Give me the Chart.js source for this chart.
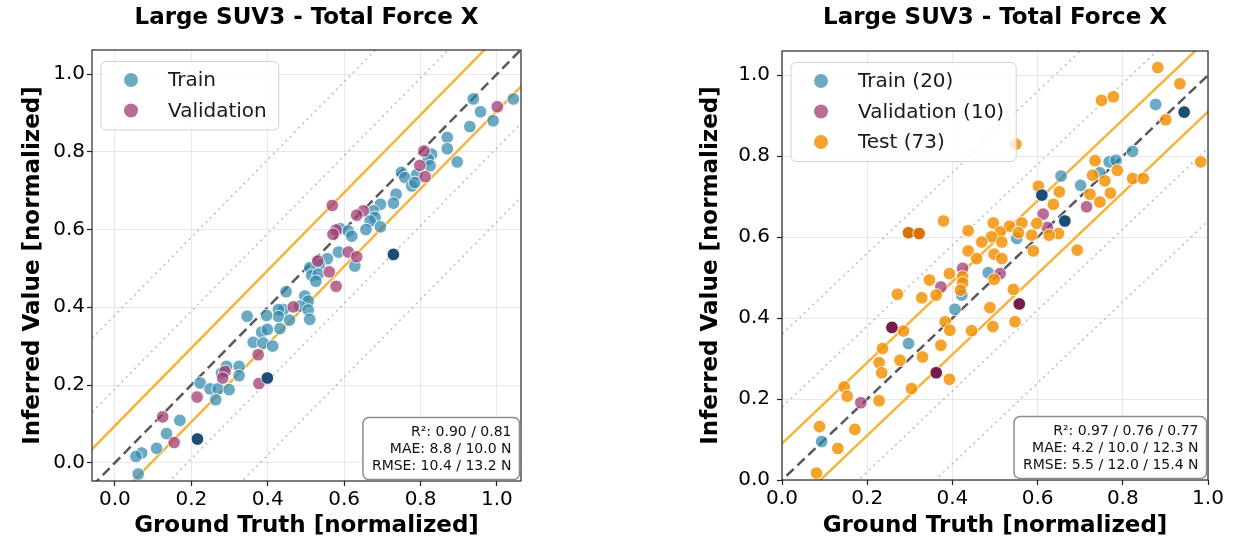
<!DOCTYPE html>
<html>
<head>
<meta charset="utf-8">
<script src="https://cdn.jsdelivr.net/npm/chart.js@4.4.0/dist/chart.umd.min.js"></script>
<style>
  html, body { margin: 0; padding: 0; background: #fff; }
  body { width: 1234px; height: 544px; position: relative; overflow: hidden; }
  .panel { position: absolute; top: 0; }
</style>
</head>
<body>
<div class="panel" style="left:0px"><canvas id="leftChart" width="560" height="544"></canvas></div>
<div class="panel" style="left:680px"><canvas id="rightChart" width="554" height="544"></canvas></div>
<script>
const titleText = "Large SUV3 - Total Force X";
const xLabel = "Ground Truth [normalized]";
const yLabel = "Inferred Value [normalized]";
const tickValues = [0, 0.2, 0.4, 0.6, 0.8, 1.0];

// ----- left panel (train / validation) -----
const leftTrain = [
  [0.938, 0.936], [1.043, 0.936], [0.957, 0.903], [0.990, 0.880], [0.929, 0.865],
  [0.870, 0.837], [0.870, 0.808], [0.896, 0.774], [0.829, 0.794], [0.820, 0.781],
  [0.825, 0.764], [0.790, 0.742], [0.750, 0.747], [0.759, 0.734], [0.777, 0.712],
  [0.785, 0.721], [0.736, 0.691], [0.729, 0.668], [0.695, 0.665], [0.676, 0.648],
  [0.681, 0.631], [0.668, 0.622], [0.695, 0.607], [0.657, 0.600], [0.590, 0.602],
  [0.611, 0.596], [0.620, 0.583], [0.585, 0.542], [0.628, 0.506], [0.556, 0.525],
  [0.535, 0.510], [0.510, 0.502], [0.515, 0.482], [0.532, 0.485], [0.526, 0.467],
  [0.448, 0.440], [0.497, 0.429], [0.506, 0.416], [0.484, 0.403], [0.506, 0.393],
  [0.510, 0.369], [0.441, 0.394], [0.428, 0.394], [0.428, 0.376], [0.432, 0.345],
  [0.457, 0.367], [0.346, 0.377], [0.397, 0.379], [0.384, 0.336], [0.399, 0.343],
  [0.362, 0.310], [0.388, 0.308], [0.413, 0.300], [0.292, 0.248], [0.325, 0.248],
  [0.279, 0.231], [0.325, 0.224], [0.223, 0.205], [0.249, 0.190], [0.270, 0.190],
  [0.299, 0.188], [0.264, 0.162], [0.170, 0.109], [0.135, 0.075], [0.109, 0.037],
  [0.070, 0.025], [0.055, 0.016], [0.061, -0.029]
];
const leftVal = [
  [1.001, 0.916], [0.809, 0.802], [0.798, 0.765], [0.812, 0.736], [0.569, 0.662],
  [0.650, 0.648], [0.633, 0.637], [0.579, 0.599], [0.571, 0.588], [0.611, 0.542],
  [0.633, 0.530], [0.531, 0.519], [0.561, 0.491], [0.579, 0.454], [0.467, 0.401],
  [0.375, 0.278], [0.288, 0.235], [0.282, 0.218], [0.377, 0.204], [0.215, 0.169],
  [0.125, 0.118], [0.155, 0.052]
];
const leftTrainDark = [[0.729, 0.536], [0.399, 0.218], [0.216, 0.061]];
const leftStats = ["R²: 0.90 / 0.81", "MAE: 8.8 / 10.0 N", "RMSE: 10.4 / 13.2 N"];

// ----- right panel (train / validation / test) -----
const rightTrain = [
  [0.877, 0.928], [0.823, 0.812], [0.768, 0.786], [0.784, 0.790], [0.746, 0.759],
  [0.655, 0.751], [0.701, 0.728], [0.551, 0.597], [0.484, 0.512], [0.422, 0.457],
  [0.406, 0.422], [0.297, 0.337], [0.093, 0.095]
];
const rightTrainDark = [[0.944, 0.909], [0.610, 0.704], [0.664, 0.640]];
const rightVal = [
  [0.715, 0.675], [0.613, 0.657], [0.623, 0.624], [0.424, 0.523], [0.512, 0.510],
  [0.373, 0.477], [0.185, 0.191]
];
const rightValDark = [[0.557, 0.435], [0.258, 0.377], [0.362, 0.265]];
const rightTest = [
  [0.882, 1.019], [0.934, 0.979], [0.750, 0.938], [0.778, 0.947], [0.901, 0.890],
  [0.549, 0.830], [0.983, 0.786], [0.735, 0.789], [0.787, 0.765], [0.729, 0.753],
  [0.823, 0.745], [0.848, 0.745], [0.758, 0.739], [0.602, 0.726], [0.771, 0.709],
  [0.723, 0.706], [0.651, 0.712], [0.746, 0.687], [0.637, 0.681], [0.379, 0.640],
  [0.496, 0.635], [0.563, 0.635], [0.598, 0.634], [0.534, 0.627], [0.437, 0.616],
  [0.649, 0.609], [0.627, 0.605], [0.586, 0.605], [0.555, 0.611], [0.512, 0.613],
  [0.492, 0.601], [0.469, 0.588], [0.516, 0.588], [0.437, 0.566], [0.457, 0.547],
  [0.498, 0.558], [0.516, 0.547], [0.590, 0.566], [0.693, 0.568], [0.424, 0.502],
  [0.424, 0.487], [0.393, 0.510], [0.498, 0.496], [0.346, 0.494], [0.419, 0.469],
  [0.362, 0.457], [0.328, 0.450], [0.271, 0.459], [0.543, 0.471], [0.488, 0.426],
  [0.383, 0.391], [0.394, 0.370], [0.445, 0.369], [0.495, 0.379], [0.547, 0.391],
  [0.285, 0.368], [0.236, 0.325], [0.373, 0.333], [0.277, 0.296], [0.330, 0.304],
  [0.228, 0.290], [0.234, 0.265], [0.393, 0.249], [0.146, 0.230], [0.153, 0.207],
  [0.228, 0.196], [0.304, 0.226], [0.088, 0.132], [0.171, 0.125], [0.131, 0.078],
  [0.081, 0.017]
];
const rightTestDark = [[0.297, 0.611], [0.322, 0.609]];
const rightStats = ["R²: 0.97 / 0.76 / 0.77", "MAE: 4.2 / 10.0 / 12.3 N", "RMSE: 5.5 / 12.0 / 15.4 N"];

// reference lines: y = x, y = x ± band, y = x ± dotted
const leftBand = 0.095, leftDotted = [0.19, 0.38];
const rightBand = 0.09, rightDotted = [0.18, 0.36];

const FONT = "'DejaVu Sans', sans-serif";
const C = {
  train: "rgba(46,134,171,0.7)",
  val: "rgba(162,59,114,0.75)",
  test: "rgba(241,143,1,0.82)",
  trainDark: "#1b4d75",
  valDark: "#761c4b",
  testDark: "#d8700a"
};

Chart.defaults.font.family = FONT;
Chart.defaults.color = "#000";

// legend box + stats box + axes frame, drawn on top of everything
const panelDecor = {
  id: "panelDecor",
  afterDraw(chart, args, opts) {
    const { ctx, chartArea: a } = chart;
    ctx.save();
    ctx.strokeStyle = "#262626";
    ctx.lineWidth = 1.2;
    ctx.strokeRect(a.left, a.top, a.right - a.left, a.bottom - a.top);

    // legend
    ctx.font = "20px " + FONT;
    const rowH = 30.5;
    const textW = Math.max(...opts.legend.map(e => ctx.measureText(e.label).width));
    const lx = a.left + 9, ly = a.top + 11.5;
    const lw = 67 + textW + 12, lh = opts.legend.length * rowH + 7.5;
    ctx.beginPath();
    ctx.roundRect(lx, ly, lw, lh, 5);
    ctx.fillStyle = "rgba(255,255,255,0.8)";
    ctx.fill();
    ctx.strokeStyle = "#d0d0d0";
    ctx.lineWidth = 1;
    ctx.stroke();
    opts.legend.forEach((e, i) => {
      const cy = ly + 18.5 + i * rowH;
      ctx.beginPath();
      ctx.arc(lx + 30, cy, 7, 0, Math.PI * 2);
      ctx.fillStyle = e.color;
      ctx.fill();
      ctx.fillStyle = "#1a1a1a";
      ctx.textAlign = "left";
      ctx.textBaseline = "middle";
      ctx.fillText(e.label, lx + 67, cy + 1);
    });

    // stats box
    ctx.font = "14px " + FONT;
    const lineH = 17;
    const sW = Math.max(...opts.stats.map(t => ctx.measureText(t).width)) + 17;
    const sH = opts.stats.length * lineH + 11;
    const sx = a.right - 1.5 - sW, sy = a.bottom - 1.5 - sH;
    ctx.beginPath();
    ctx.roundRect(sx, sy, sW, sH, 6);
    ctx.fillStyle = "rgba(255,255,255,0.9)";
    ctx.fill();
    ctx.strokeStyle = "#8c8c8c";
    ctx.lineWidth = 1.5;
    ctx.stroke();
    ctx.fillStyle = "#111";
    ctx.textAlign = "right";
    ctx.textBaseline = "middle";
    opts.stats.forEach((t, i) => {
      ctx.fillText(t, sx + sW - 8, sy + 6 + lineH / 2 + i * lineH);
    });
    ctx.restore();
  }
};

function pts(arr) {
  return arr.map(([x, y]) => ({ x, y }));
}

function scatterSet(arr, color, order) {
  return {
    data: pts(arr),
    pointRadius: 6.3,
    pointBackgroundColor: color,
    pointBorderColor: "rgba(255,255,255,0.85)",
    pointBorderWidth: 1,
    showLine: false,
    order: order
  };
}

function refLine(offset, color, width, dash, order) {
  return {
    data: [{ x: -0.5, y: -0.5 + offset }, { x: 1.5, y: 1.5 + offset }],
    showLine: true,
    pointRadius: 0,
    borderColor: color,
    borderWidth: width,
    borderDash: dash,
    clip: 0,
    order: order
  };
}

function refLines(band, dotted) {
  const out = [refLine(0, "rgba(60,60,60,0.85)", 2.5, [10, 5], 10)];
  out.push(refLine(band, "#f6b43c", 2.5, [], 11), refLine(-band, "#f6b43c", 2.5, [], 11));
  dotted.forEach(d => {
    out.push(refLine(d, "rgba(160,160,160,0.7)", 1.5, [2, 4], 12));
    out.push(refLine(-d, "rgba(160,160,160,0.7)", 1.5, [2, 4], 12));
  });
  return out;
}

function makePanel(id, geo, datasets, legend, stats) {
  return new Chart(document.getElementById(id), {
    type: "scatter",
    data: { datasets: datasets },
    options: {
      responsive: false,
      animation: false,
      events: [],
      layout: { padding: { left: 0, right: geo.padRight, top: 0, bottom: 0 } },
      scales: {
        x: {
          type: "linear",
          min: geo.xMin, max: geo.xMax,
          afterBuildTicks: s => { s.ticks = tickValues.map(v => ({ value: v })); },
          afterFit: s => { s.height = geo.xHeight; s.paddingLeft = 0; s.paddingRight = 0; },
          ticks: { font: { size: 20 }, color: "#000", padding: 2, maxRotation: 0, autoSkip: false,
                   callback: v => v.toFixed(1) },
          grid: { color: "rgba(0,0,0,0.09)", lineWidth: 1, tickColor: "#222", tickLength: 5, tickWidth: 1.2 },
          border: { display: false },
          title: { display: true, text: xLabel, font: { size: 23, weight: "bold" }, color: "#000",
                   padding: { top: 0, bottom: 4 } }
        },
        y: {
          type: "linear",
          min: geo.yMin, max: geo.yMax,
          afterBuildTicks: s => { s.ticks = tickValues.map(v => ({ value: v })); },
          afterFit: s => { s.width = geo.yWidth; s.paddingTop = 0; s.paddingBottom = 0; },
          ticks: { font: { size: 20 }, color: "#000", padding: geo.yTickPad, autoSkip: false,
                   callback: v => v.toFixed(1) },
          grid: { color: "rgba(0,0,0,0.09)", lineWidth: 1, tickColor: "#222", tickLength: 5, tickWidth: 1.2 },
          border: { display: false },
          title: { display: true, text: yLabel, font: { size: 23, weight: "bold" }, color: "#000",
                   padding: { top: geo.yTitlePad, bottom: 0 } }
        }
      },
      plugins: {
        legend: { display: false },
        tooltip: { enabled: false },
        title: {
          display: true, text: titleText, fullSize: false, color: "#000",
          font: { size: 23, weight: "bold" },
          padding: { top: 4, bottom: geo.top - 31.6 }
        },
        panelDecor: { legend: legend, stats: stats }
      }
    },
    plugins: [panelDecor]
  });
}

makePanel("leftChart",
  { xMin: -0.06, xMax: 1.063, yMin: -0.047, yMax: 1.062, padRight: 39, xHeight: 63, yWidth: 92,
    top: 50, yTitlePad: 19, yTickPad: 2 },
  [
    scatterSet(leftTrainDark, C.trainDark, 0),
    scatterSet(leftVal, C.val, 1),
    scatterSet(leftTrain, C.train, 2),
    ...refLines(leftBand, leftDotted)
  ],
  [{ label: "Train", color: C.train }, { label: "Validation", color: C.val }],
  leftStats
);

makePanel("rightChart",
  { xMin: 0, xMax: 1, yMin: 0, yMax: 1.06, padRight: 26, xHeight: 64, yWidth: 102,
    top: 51, yTitlePad: 17, yTickPad: 7 },
  [
    scatterSet(rightTrainDark, C.trainDark, 0),
    scatterSet(rightValDark, C.valDark, 0),
    scatterSet(rightTestDark, C.testDark, 0),
    scatterSet(rightTest, C.test, 1),
    scatterSet(rightVal, C.val, 2),
    scatterSet(rightTrain, C.train, 3),
    ...refLines(rightBand, rightDotted)
  ],
  [{ label: "Train (20)", color: C.train }, { label: "Validation (10)", color: C.val }, { label: "Test (73)", color: C.test }],
  rightStats
);
</script>
</body>
</html>
